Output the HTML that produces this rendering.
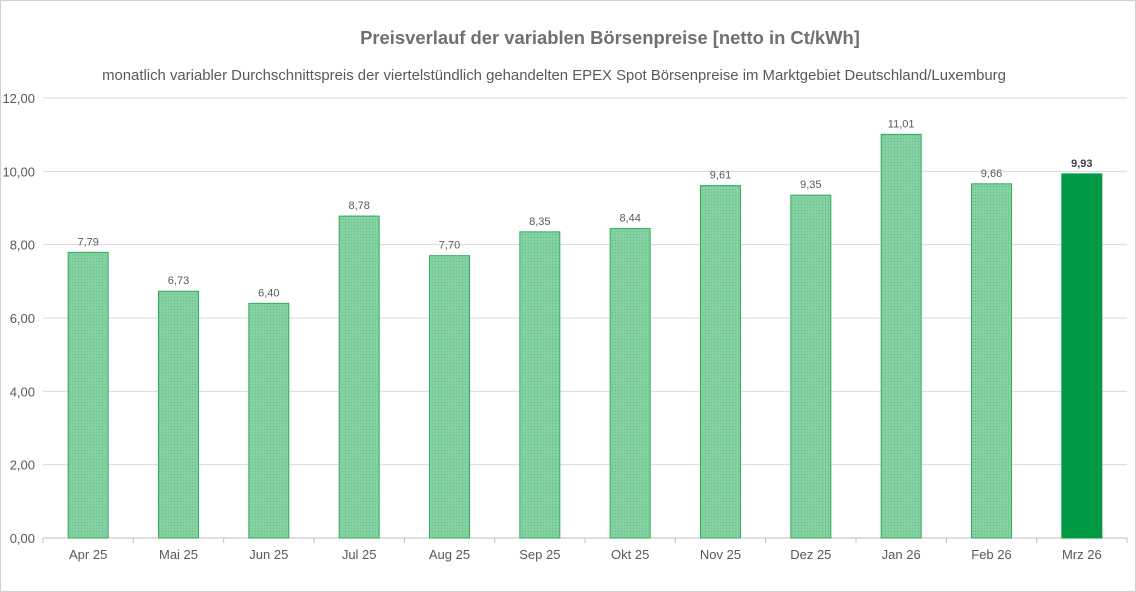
<!DOCTYPE html>
<html><head><meta charset="utf-8"><style>
body{margin:0;background:#fff}
svg{display:block;font-family:"Liberation Sans",sans-serif}
</style></head><body>
<svg width="1136" height="592">
<defs><pattern id="dots" width="3" height="3" patternUnits="userSpaceOnUse"><rect width="3" height="3" fill="#86d1a3"/><rect width="1" height="1" fill="#5fbf84"/></pattern></defs>
<rect x="0.5" y="0.5" width="1135" height="591" fill="#fff" stroke="#d0d0d0"/>
<text x="610" y="44" text-anchor="middle" font-size="18.4" font-weight="bold" fill="#707070">Preisverlauf der variablen Börsenpreise [netto in Ct/kWh]</text>
<text x="554" y="80" text-anchor="middle" font-size="14.9" fill="#595959">monatlich variabler Durchschnittspreis der viertelstündlich gehandelten EPEX Spot Börsenpreise im Marktgebiet Deutschland/Luxemburg</text>
<g id="grid"></g><g id="bars"></g><g id="xaxis"></g>
</svg>
<script>
const categories=["Apr 25","Mai 25","Jun 25","Jul 25","Aug 25","Sep 25","Okt 25","Nov 25","Dez 25","Jan 26","Feb 26","Mrz 26"];
const values=[7.79,6.73,6.40,8.78,7.70,8.35,8.44,9.61,9.35,11.01,9.66,9.93];
const yTicks=[0,2,4,6,8,10,12];
const NS="http://www.w3.org/2000/svg";
const L=43,R=1127,T=98,B=538,YMAX=12;
const y=v=>B-(v/YMAX)*(B-T);
const bw=(R-L)/categories.length;
const x=i=>L+bw*(i+0.5);
function mk(tag,attrs,parent,txt){const e=document.createElementNS(NS,tag);for(const k in attrs)e.setAttribute(k,attrs[k]);if(txt!==undefined)e.textContent=txt;parent.appendChild(e);return e;}
const g=document.getElementById('grid'),gb=document.getElementById('bars'),gx=document.getElementById('xaxis');
yTicks.forEach(t=>{
 const ln=mk('line',{x1:L,x2:R,y1:y(t),y2:y(t),stroke:t===0?'#bfbfbf':'#d9d9d9','stroke-width':1},g);
 
 
 const tx=mk('text',{x:35,y:y(t)+5,'text-anchor':'end','font-size':13,fill:'#595959'},g,t.toFixed(2).replace('.',','));
 
 
});
for(let i=0;i<=categories.length;i++){
 const tk=mk('line',{x1:L+bw*i,x2:L+bw*i,y1:B,y2:B+5,stroke:'#bfbfbf'},gx);
 
 
}
values.forEach((v,i)=>{
 const last=i===values.length-1;
 const r=mk('rect',{x:x(i)-20,y:y(v),width:40,height:B-y(v),fill:last?'#009a44':'url(#dots)',stroke:last?'#009a44':'#2fae5a','stroke-width':1},gb);
 
 
 const lb=mk('text',{x:x(i),y:y(v)-7,'text-anchor':'middle','font-size':11,fill:last?'#404040':'#595959','font-weight':last?'bold':'normal'},gb,v.toFixed(2).replace('.',','));
 
 
 const cl=mk('text',{x:x(i),y:B+21,'text-anchor':'middle','font-size':13,fill:'#595959'},gx,categories[i]);
 
 
});
</script>
</body></html>
